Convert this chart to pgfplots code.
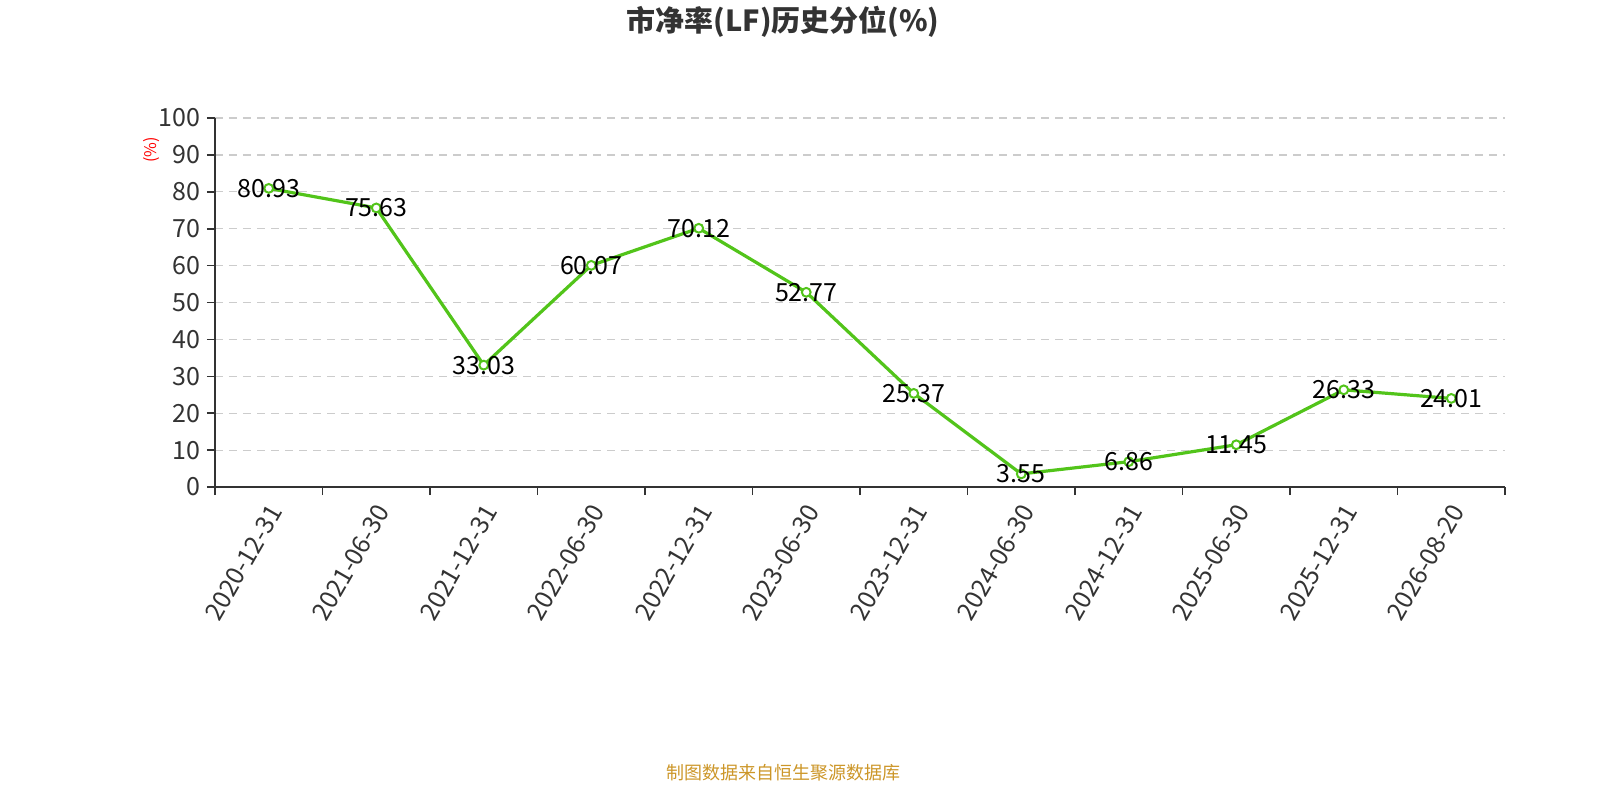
\documentclass[border=0pt]{standalone}
\usepackage{fontspec}
\setmainfont{Noto Sans CJK SC}
\usepackage{pgfplots}
\pgfplotsset{compat=1.18}
\definecolor{linegreen}{RGB}{82,196,26}
\definecolor{axisgray}{RGB}{51,51,51}
\definecolor{gridgray}{RGB}{204,204,204}
\definecolor{footgold}{RGB}{204,150,40}
\begin{document}
\begin{tikzpicture}
\begin{axis}[
    at={(0,0)}, anchor=south west,
    scale only axis,
    width=645pt, height=184.5pt,
    xmin=-0.5, xmax=11.5,
    ymin=0, ymax=100,
    axis x line*=bottom,
    axis y line*=left,
    axis line style={axisgray, line width=0.8pt},
    tick align=outside,
    major tick length=4pt,
    minor tick length=4pt,
    tick style={axisgray, line width=0.8pt},
    xtick={0,...,11},
    major x tick style={draw=none},
    minor xtick={-0.5,0.5,...,11.5},
    xticklabels={2020-12-31,2021-06-30,2021-12-31,2022-06-30,2022-12-31,2023-06-30,2023-12-31,2024-06-30,2024-12-31,2025-06-30,2025-12-31,2026-08-20},
    xticklabel style={rotate=60, anchor=east, text=axisgray, font=\fontsize{12.5}{14}\selectfont, yshift=-6pt},
    ytick={0,10,...,100},
    yticklabel style={text=axisgray, font=\fontsize{12.5}{14}\selectfont},
    /pgf/number format/assume math mode=true,
    ymajorgrids=true,
    grid style={gridgray, dash pattern=on 4pt off 3pt, line width=0.6pt},
    clip=false,
    nodes near coords,
    point meta=explicit symbolic,
    every node near coord/.append style={anchor=center, text=black, font=\fontsize{12.5}{14}\selectfont},
]
\addplot[color=linegreen, line width=1.6pt, mark=*, mark size=2.2pt,
    mark options={fill=white, draw=linegreen, line width=1pt}]
coordinates {
    (0,80.93) [80.93]
    (1,75.63) [75.63]
    (2,33.03) [33.03]
    (3,60.07) [60.07]
    (4,70.12) [70.12]
    (5,52.77) [52.77]
    (6,25.37) [25.37]
    (7,3.55) [3.55]
    (8,6.86) [6.86]
    (9,11.45) [11.45]
    (10,26.33) [26.33]
    (11,24.01) [24.01]
};
\end{axis}
\node[font=\fontsize{14.5}{16}\selectfont\bfseries, text=axisgray] at (284pt,232.5pt) {市净率(LF)历史分位(\%)};
\node[rotate=90, text=red, font=\fontsize{8}{9}\selectfont] at (-31.5pt,168.5pt) {(\%)};
\node[text=footgold, font=\fontsize{9}{10}\selectfont] at (284pt,-143pt) {制图数据来自恒生聚源数据库};
\pgfresetboundingbox
\path[use as bounding box] (-107.5pt,-156.5pt) rectangle (692.5pt,243.5pt);
\end{tikzpicture}
\end{document}
